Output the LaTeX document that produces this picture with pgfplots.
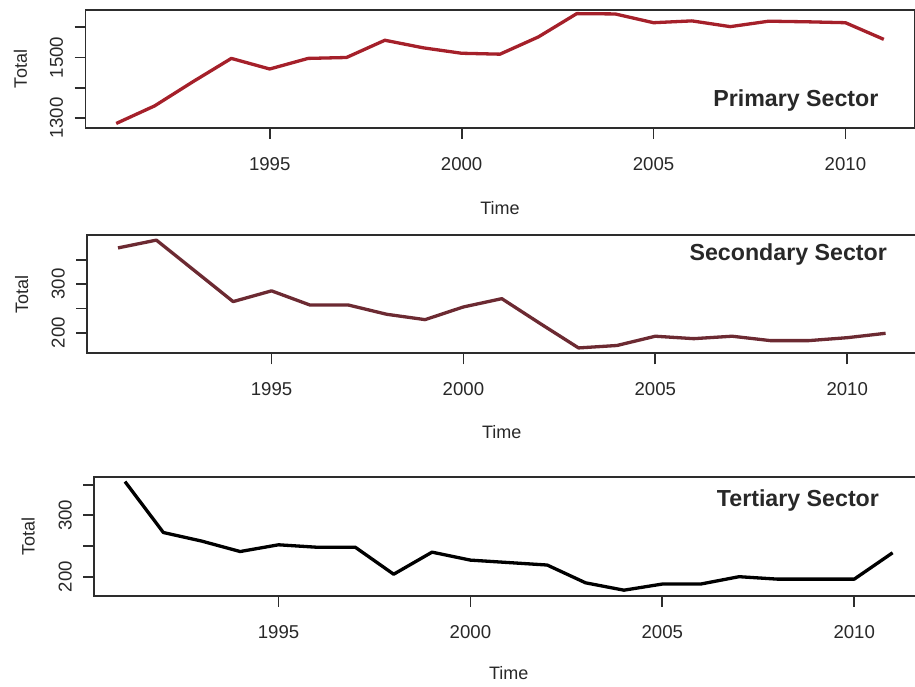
\documentclass[border=0pt]{standalone}
\usepackage{fontspec}
\setmainfont{Liberation Sans}
\usepackage{pgfplots}
\usepackage{pgfplotstable}
\pgfplotsset{compat=1.18}

\definecolor{primaryred}{RGB}{165,32,42}
\definecolor{secondarymaroon}{RGB}{108,42,50}
\definecolor{framegray}{RGB}{45,45,45}
\definecolor{textgray}{RGB}{40,40,40}

% Employment totals per sector, 1991--2011
\pgfplotstableread{
year total
1991 1282
1992 1340
1993 1420
1994 1497
1995 1462
1996 1497
1997 1500
1998 1557
1999 1532
2000 1514
2001 1511
2002 1568
2003 1645
2004 1644
2005 1615
2006 1621
2007 1602
2008 1620
2009 1618
2010 1615
2011 1560
}\primary

\pgfplotstableread{
year total
1991 374
1992 390
1993 327
1994 264
1995 286
1996 257
1997 257
1998 238
1999 227
2000 253
2001 270
2002 219
2003 169
2004 174
2005 193
2006 188
2007 193
2008 184
2009 184
2010 190
2011 199
}\secondary

\pgfplotstableread{
year total
1991 355
1992 272
1993 258
1994 241
1995 252
1996 248
1997 248
1998 204
1999 240
2000 227
2001 223
2002 219
2003 190
2004 178
2005 188
2006 188
2007 200
2008 196
2009 196
2010 196
2011 239
}\tertiary

\pgfplotsset{
  sectorpanel/.style={
    scale only axis,
    width=414.5pt, height=59pt,
    xmin=1990.2, xmax=2011.8,
    xtick={1995,2000,2005,2010},
    axis line style={framegray, line width=0.9pt},
    every tick/.style={framegray, line width=0.9pt},
    tick align=outside,
    major tick length=5.5pt,
    xtick pos=lower, ytick pos=left,
    /pgf/number format/1000 sep={},
    /pgf/number format/assume math mode=true,
    ticklabel style={font=\fontsize{9.3}{11}\selectfont, text=textgray},
    xticklabel style={anchor=center, yshift=-12.5pt},
    yticklabel style={anchor=center, xshift=-9pt, rotate=90},
    label style={font=\fontsize{9}{11}\selectfont, text=textgray},
    xlabel={Time}, ylabel={Total},
    every axis plot/.append style={line width=1.65pt, line join=round, mark=none},
  },
}
\tikzset{
  sectortitle/.style={anchor=east, inner sep=0pt, text=textgray,
    font=\bfseries\fontsize{11.6}{13}\selectfont},
}

\begin{document}
\begin{tikzpicture}
\useasboundingbox (0,0) rectangle (457.5pt,343pt);
\clip (0,0) rectangle (457.5pt,343pt);

% Primary sector
\begin{axis}[sectorpanel,
  at={(42.75pt,279pt)}, anchor=south west,
  ymin=1267, ymax=1657,
  ytick={1300,1400,1500,1600},
  yticklabels={1300,,1500,},
  xlabel style={at={(axis description cs:0.5,-0.678)}, anchor=center},
  ylabel style={at={(axis description cs:-0.0785,0.5)}, anchor=center},
]
\addplot[primaryred] table[x=year, y=total] {\primary};
\node[sectortitle] at (rel axis cs:0.957,0.237) {Primary Sector};
\end{axis}

% Secondary sector
\begin{axis}[sectorpanel,
  at={(43.65pt,166.35pt)}, anchor=south west,
  height=59.15pt,
  ymin=158, ymax=400.5,
  ytick={200,250,300,350},
  yticklabels={200,,300,},
  xlabel style={at={(axis description cs:0.5,-0.663)}, anchor=center},
  ylabel style={at={(axis description cs:-0.079,0.5)}, anchor=center},
]
\addplot[secondarymaroon] table[x=year, y=total] {\secondary};
\node[sectortitle] at (rel axis cs:0.965,0.837) {Secondary Sector};
\end{axis}

% Tertiary sector
\begin{axis}[sectorpanel,
  at={(47.15pt,45.15pt)}, anchor=south west,
  height=59.5pt,
  ymin=169, ymax=363,
  ytick={200,250,300,350},
  yticklabels={200,,300,},
  xlabel style={at={(axis description cs:0.5,-0.652)}, anchor=center},
  ylabel style={at={(axis description cs:-0.0796,0.5)}, anchor=center},
]
\addplot[black] table[x=year, y=total] {\tertiary};
\node[sectortitle] at (rel axis cs:0.947,0.804) {Tertiary Sector};
\end{axis}
\end{tikzpicture}
\end{document}
